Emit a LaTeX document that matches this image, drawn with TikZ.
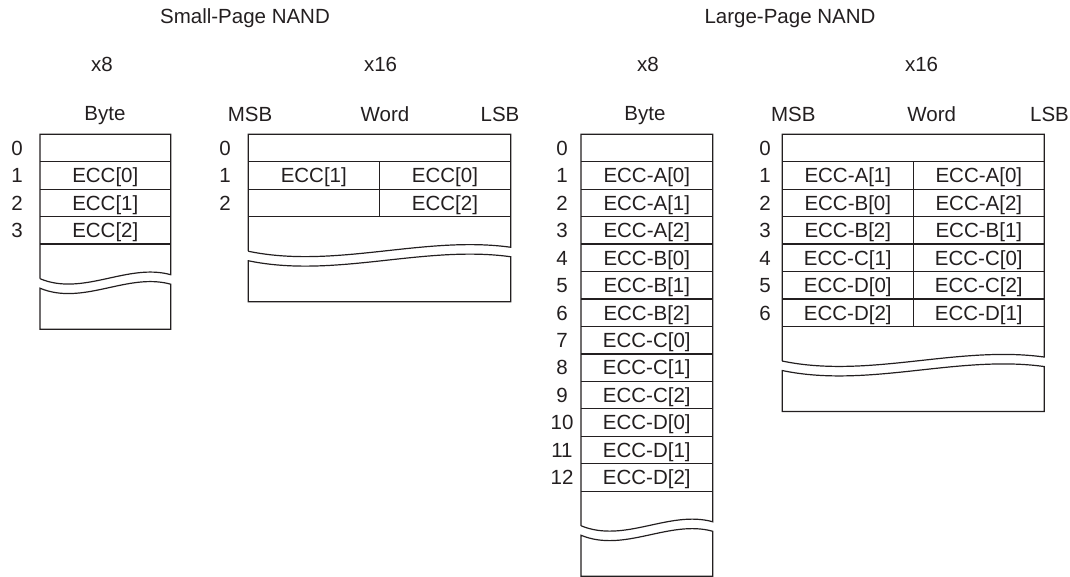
\documentclass[tikz,border=0pt]{standalone}
\usepackage{fontspec}
\setmainfont{Liberation Sans}
\definecolor{ink}{HTML}{231F20}
\tikzset{
  line/.style={draw=ink, line width=1.2pt},
  txt/.style={text=ink, inner sep=0pt, text height=14.7pt, text depth=0pt, font=\fontsize{20.5}{24}\selectfont},
}
\newcommand\memBox[3]{%
  \pgfmathsetmacro\mbL{#1}\pgfmathsetmacro\mbR{#2}%
  \pgfmathsetmacro\mbE{134.3+#3*27.45}%
  \pgfmathsetmacro\mbW{\mbE+34.6}%
  \pgfmathsetmacro\mbLo{\mbW+9.5}%
  \pgfmathsetmacro\mbB{\mbLo+41}%
  \pgfmathsetmacro\mbA{\mbL+0.33*(\mbR-\mbL)}%
  \pgfmathsetmacro\mbC{\mbL+0.67*(\mbR-\mbL)}%
  \draw[line] (\mbL,\mbW) -- (\mbL,134.3) -- (\mbR,134.3) -- (\mbR,\mbW-4)
     .. controls (\mbC,\mbW-16) and (\mbA,\mbW+18) .. (\mbL,\mbW);
  \draw[line] (\mbL,\mbLo) .. controls (\mbA,\mbLo+18) and (\mbC,\mbLo-16) .. (\mbR,\mbLo-4)
     -- (\mbR,\mbB) -- (\mbL,\mbB) -- cycle;
  \foreach \i in {1,...,#3}{\draw[line] (\mbL,{134.3+\i*27.45}) -- (\mbR,{134.3+\i*27.45});}
}
\begin{document}
\begin{tikzpicture}[x=1pt,y=-1pt]
\useasboundingbox (0,0) rectangle (1070,577);
% headers
\node[txt] (t1) at (245,16.5) {Small-Page NAND};
\node[txt] (t2) at (790,16.5) {Large-Page NAND};
\node[txt] (h1) at (102,64) {x8};
\node[txt] (h2) at (380.6,64) {x16};
\node[txt] (h3) at (648,64) {x8};
\node[txt] (h4) at (921.6,64) {x16};
\node[txt] (by1) at (105,113.3) {Byte};
\node[txt] (by3) at (645,113.3) {Byte};
\node[txt] (ms2) at (250,114) {MSB};
\node[txt] (wd2) at (385,114) {Word};
\node[txt] (ls2) at (500,114) {LSB};
\node[txt] (ms4) at (793.3,114) {MSB};
\node[txt] (wd4) at (931.7,114) {Word};
\node[txt] (ls4) at (1049.5,114) {LSB};
% boxes
\memBox{40}{170.7}{4}
\memBox{248.3}{510.7}{3}
\memBox{581}{712.7}{13}
\memBox{782.3}{1044.3}{7}
\draw[line] (379.3,{134.3+27.45}) -- (379.3,{134.3+3*27.45});
\draw[line] (913.3,{134.3+27.45}) -- (913.3,{134.3+7*27.45});
% row numbers
\foreach \i in {0,...,3}{\node[txt] (n1r\i) at (17,{134.3+(\i+0.5)*27.45}) {\i};}
\foreach \i in {0,...,2}{\node[txt] (n2r\i) at (225,{134.3+(\i+0.5)*27.45}) {\i};}
\foreach \i in {0,...,12}{\node[txt] (n3r\i) at (562,{134.3+(\i+0.5)*27.45}) {\i};}
\foreach \i in {0,...,6}{\node[txt] (n4r\i) at (765,{134.3+(\i+0.5)*27.45}) {\i};}
% box 1 cells
\foreach \t [count=\i] in {ECC[0],ECC[1],ECC[2]}{\node[txt] (c1r\i) at (105.3,{134.3+(\i+0.5)*27.45}) {\t};}
% box 2 cells
\node[txt] (c2l1) at (313.8,{134.3+1.5*27.45}) {ECC[1]};
\node[txt] (c2r1) at (445,{134.3+1.5*27.45}) {ECC[0]};
\node[txt] (c2r2) at (445,{134.3+2.5*27.45}) {ECC[2]};
% box 3 cells
\foreach \t [count=\i] in {A[0],A[1],A[2],B[0],B[1],B[2],C[0],C[1],C[2],D[0],D[1],D[2]}{\node[txt] (c3r\i) at (646.8,{134.3+(\i+0.5)*27.45}) {ECC-\t};}
% box 4 cells
\foreach \a/\b [count=\i] in {A[1]/A[0],B[0]/A[2],B[2]/B[1],C[1]/C[0],D[0]/C[2],D[2]/D[1]}{%
  \node[txt] (c4l\i) at (847.8,{134.3+(\i+0.5)*27.45}) {ECC-\a};
  \node[txt] (c4r\i) at (978.8,{134.3+(\i+0.5)*27.45}) {ECC-\b};}
\end{tikzpicture}
\end{document}
